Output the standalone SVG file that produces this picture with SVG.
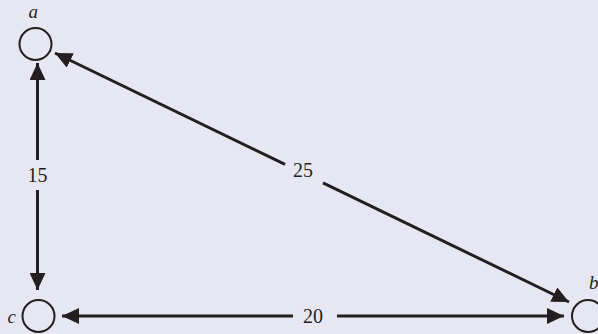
<svg xmlns="http://www.w3.org/2000/svg" width="598" height="334" viewBox="0 0 598 334">
<defs>
<marker id="arr" viewBox="0 0 17 16" refX="17" refY="8" markerWidth="17" markerHeight="16" markerUnits="userSpaceOnUse" orient="auto-start-reverse">
<path d="M0,0 L17,8 L0,16 Z" fill="#231f20"/>
</marker>
<style>
.node{fill:none;stroke:#231f20;stroke-width:2}
.edge{fill:none;stroke:#231f20;stroke-width:3;marker-start:url(#arr);marker-end:url(#arr)}
.lbl{font-family:"Liberation Serif",serif;font-style:italic;font-size:19px;fill:#231f20}
.num{font-family:"Liberation Serif",serif;font-size:20px;fill:#231f20;text-anchor:middle}
</style>
</defs>
<rect width="598" height="334" fill="#e7e7f3"/>
<g id="connectors">
<path class="edge" d="M37.5,63 V160 M37.5,190 V290"/>
<path class="edge" d="M55,53 L285,164.4 M323,182.8 L569,302"/>
<path class="edge" d="M62,316 H293 M337,316 H564"/>
<text class="num" x="37.5" y="181.5">15</text>
<text class="num" x="303" y="177">25</text>
<text class="num" x="313" y="323">20</text>
</g>
<g id="node-a">
<circle class="node" cx="35.5" cy="44" r="16"/>
<text class="lbl" x="28.5" y="18">a</text>
</g>
<g id="node-c">
<circle class="node" cx="38.5" cy="316" r="16"/>
<text class="lbl" x="7.5" y="323">c</text>
</g>
<g id="node-b">
<circle class="node" cx="588" cy="316" r="16"/>
<text class="lbl" x="589" y="289">b</text>
</g>
</svg>
